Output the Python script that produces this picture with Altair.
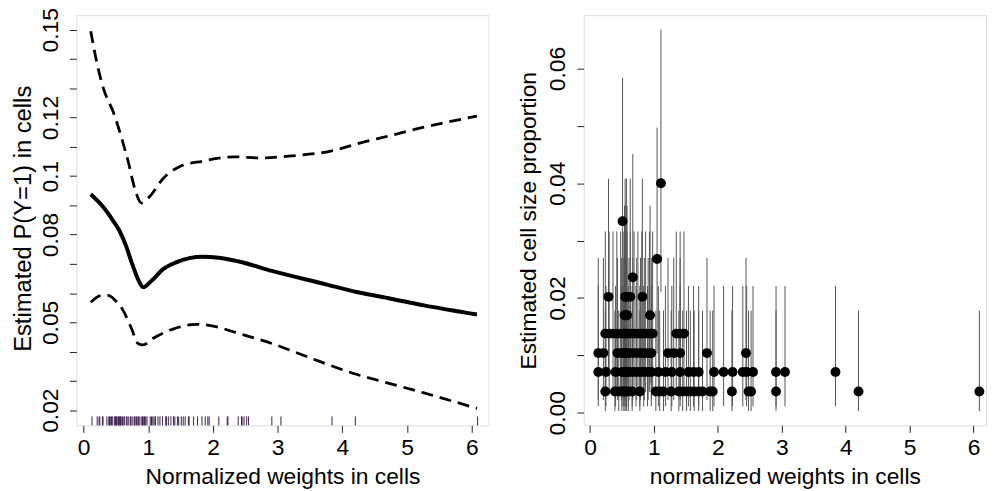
import altair as alt
import pandas as pd

FONT = "Liberation Sans"

# ---------------- left panel: fitted curve with pointwise band ----------------
fit_x = [0.11, 0.30, 0.46, 0.55, 0.65, 0.75, 0.84, 0.92, 1.05, 1.23, 1.43, 1.84, 2.09, 2.40, 2.91, 3.73, 4.24, 4.75, 5.26, 6.08]
fit_y = [0.0938, 0.0895, 0.0846, 0.0815, 0.0765, 0.0700, 0.0648, 0.0620, 0.0642, 0.0682, 0.0705, 0.0724, 0.0721, 0.0708, 0.0676, 0.0631, 0.0603, 0.0581, 0.0558, 0.0527]

up_x = [0.11, 0.205, 0.31, 0.46, 0.59, 0.69, 0.79, 0.895, 1.02, 1.23, 1.48, 1.84, 2.35, 2.71, 3.22, 3.88, 4.24, 4.75, 5.26, 6.08]
up_y = [0.1495, 0.1387, 0.1297, 0.1218, 0.1128, 0.1049, 0.0958, 0.0908, 0.0930, 0.0992, 0.1032, 0.1051, 0.1066, 0.1062, 0.1069, 0.1088, 0.1111, 0.1139, 0.1167, 0.1205]

lo_x = [0.11, 0.28, 0.38, 0.49, 0.61, 0.74, 0.84, 0.92, 1.07, 1.38, 1.74, 1.94, 2.40, 2.91, 3.52, 4.24, 4.75, 5.26, 6.08]
lo_y = [0.0569, 0.0592, 0.0592, 0.0575, 0.0541, 0.0479, 0.0428, 0.0423, 0.0445, 0.0477, 0.0493, 0.0490, 0.0462, 0.0428, 0.0377, 0.0321, 0.0290, 0.0259, 0.0206]

left_x_ticks = [0, 1, 2, 3, 4, 5, 6]
left_y_ticks = [0.02, 0.03, 0.04, 0.05, 0.06, 0.07, 0.08, 0.09, 0.10, 0.11, 0.12, 0.13, 0.14, 0.15]
left_y_labeled = [0.02, 0.05, 0.08, 0.10, 0.12, 0.15]

# ---------------- right panel: cell estimates with intervals ----------------
# estimated proportion levels (count levels 1..12) and their interval ends
levels = [0.0037, 0.0071, 0.0104, 0.0138, 0.0170, 0.0202, 0.0236, 0.0268, 0.0301, 0.0334, 0.0367, 0.0400]
level_lo = [0.0003, 0.0011, 0.0022, 0.0036, 0.0051, 0.0068, 0.0086, 0.0104, 0.0123, 0.0143, 0.0163, 0.0210]
level_hi = [0.0178, 0.0221, 0.0270, 0.0316, 0.0361, 0.0408, 0.0451, 0.0497, 0.0540, 0.0584, 0.0628, 0.0668]

cells_by_level = {
    1: [0.24, 0.39, 0.45, 0.50, 0.53, 0.55, 0.57, 0.60, 0.66, 0.78, 1.03, 1.09, 1.15, 1.27, 1.39, 1.45, 1.51,
        1.57, 1.63, 1.70, 1.76, 1.88, 1.92, 2.22, 2.48, 2.52, 2.91, 4.20, 6.09],
    2: [0.13, 0.25, 0.40, 0.50, 0.53, 0.55, 0.57, 0.60, 0.66, 0.72, 0.78, 0.84, 0.90, 0.96, 1.07, 1.18, 1.28,
        1.41, 1.54, 1.62, 1.70, 1.94, 2.09, 2.23, 2.39, 2.45, 2.55, 2.91, 3.05, 3.84],
    3: [0.13, 0.21, 0.43, 0.49, 0.53, 0.55, 0.57, 0.61, 0.67, 0.73, 0.79, 0.85, 0.91, 0.96, 1.22, 1.31, 1.41, 1.83, 2.44],
    4: [0.24, 0.30, 0.36, 0.42, 0.48, 0.53, 0.55, 0.58, 0.63, 0.69, 0.75, 0.81, 0.87, 0.93, 0.98, 1.35, 1.41, 1.47],
    5: [0.54, 0.56, 0.58, 0.94],
    6: [0.29, 0.55, 0.57, 0.63, 0.82],
    7: [0.67],
    8: [1.05],
    10: [0.51],
    12: [1.11],
}

right_x_ticks = [0, 1, 2, 3, 4, 5, 6]
right_y_ticks = [0.00, 0.01, 0.02, 0.03, 0.04, 0.05, 0.06]
right_y_labeled = [0.00, 0.02, 0.04, 0.06]

# ---------------- tables ----------------
rows = []
for k, xs in cells_by_level.items():
    for xv in xs:
        rows.append({"x": xv, "y": levels[k - 1], "lo": level_lo[k - 1], "hi": level_hi[k - 1]})
cells = pd.DataFrame(rows)
rug = pd.DataFrame({"x": sorted(set(cells["x"]))})
fit_df = pd.DataFrame({"x": fit_x, "y": fit_y})
up_df = pd.DataFrame({"x": up_x, "y": up_y})
lo_df = pd.DataFrame({"x": lo_x, "y": lo_y})


def expr_for(labeled, fmt):
    cond = " || ".join(f"round(datum.value*100) == {int(round(v * 100))}" for v in labeled)
    return f"({cond}) ? format(datum.value, '{fmt}') : ''"


common_axis = dict(domain=False, grid=False, ticks=True, tickSize=7, tickColor="#222", tickWidth=1,
                   labelFont=FONT, labelFontSize=23, labelColor="#000",
                   titleFont=FONT, titleColor="#000", titleFontWeight="normal")

W_L, W_R, H = 416, 406, 414

# left scales / axes
xs_l = alt.Scale(domain=[-0.112, 6.26], nice=False, zero=False)
ys_l = alt.Scale(domain=[0.0148, 0.155], nice=False, zero=False)
xax_l = alt.Axis(values=left_x_ticks, format="d", title="Normalized weights in cells",
                 labelBaseline="alphabetic", labelPadding=22, labelAngle=0, titleFontSize=23,
                 titleBaseline="alphabetic", titleY=58.5, **common_axis)
yax_l = alt.Axis(values=left_y_ticks, labelExpr=expr_for(left_y_labeled, "~g"),
                 title="Estimated P(Y=1) in cells", labelAngle=270, labelAlign="center",
                 labelBaseline="alphabetic", labelPadding=12, labelOverlap=False, titleFontSize=24,
                 titleBaseline="alphabetic", titleX=-46, titleY=205, titleAngle=270, **common_axis)

X_l = alt.X("x:Q", scale=xs_l, axis=xax_l)
Y_l = alt.Y("y:Q", scale=ys_l, axis=yax_l)

rug_l = alt.Chart(rug).mark_rule(color="#3a1c4a", strokeWidth=1).encode(
    x=X_l, y=alt.value(H - 9), y2=alt.value(H))
upper = alt.Chart(up_df).mark_line(color="#000", strokeWidth=2.8, strokeDash=[12, 7],
                                   interpolate="monotone").encode(x=X_l, y=Y_l)
lower = alt.Chart(lo_df).mark_line(color="#000", strokeWidth=2.8, strokeDash=[12, 7],
                                   interpolate="monotone").encode(x=X_l, y=Y_l)
fit = alt.Chart(fit_df).mark_line(color="#000", strokeWidth=4,
                                  interpolate="monotone").encode(x=X_l, y=Y_l)

left = alt.layer(rug_l, upper, lower, fit).properties(width=W_L, height=H)

# right scales / axes
xs_r = alt.Scale(domain=[-0.098, 6.194], nice=False, zero=False)
ys_r = alt.Scale(domain=[-0.0022, 0.0693], nice=False, zero=False)
xax_r = alt.Axis(values=right_x_ticks, format="d", title="normalized weights in cells",
                 labelBaseline="alphabetic", labelPadding=22, labelAngle=0, titleFontSize=23,
                 titleBaseline="alphabetic", titleY=58.5, **common_axis)
yax_r = alt.Axis(values=right_y_ticks, labelExpr=expr_for(right_y_labeled, ".2f"),
                 title="Estimated cell size proportion", labelAngle=270, labelAlign="center",
                 labelBaseline="alphabetic", labelPadding=12, labelOverlap=False, titleFontSize=23,
                 titleBaseline="alphabetic", titleX=-49, titleAngle=270, **common_axis)

X_r = alt.X("x:Q", scale=xs_r, axis=xax_r)

bars = alt.Chart(cells).mark_rule(color="#555", strokeWidth=1).encode(
    x=X_r, y=alt.Y("lo:Q", scale=ys_r, axis=yax_r), y2="hi:Q")
dots = alt.Chart(cells).mark_circle(size=100, color="#000", opacity=1).encode(
    x=X_r, y=alt.Y("y:Q", scale=ys_r, axis=yax_r))

right = alt.layer(bars, dots).properties(width=W_R, height=H)

chart = alt.hconcat(left, right, spacing=96, bounds="flush").properties(
    padding={"left": 3, "top": -4, "right": 0, "bottom": 0}
).configure_view(stroke="#222", strokeWidth=1).configure(font=FONT, background="white")

chart.save("out.html", embed_options={"renderer": "svg", "actions": False})
